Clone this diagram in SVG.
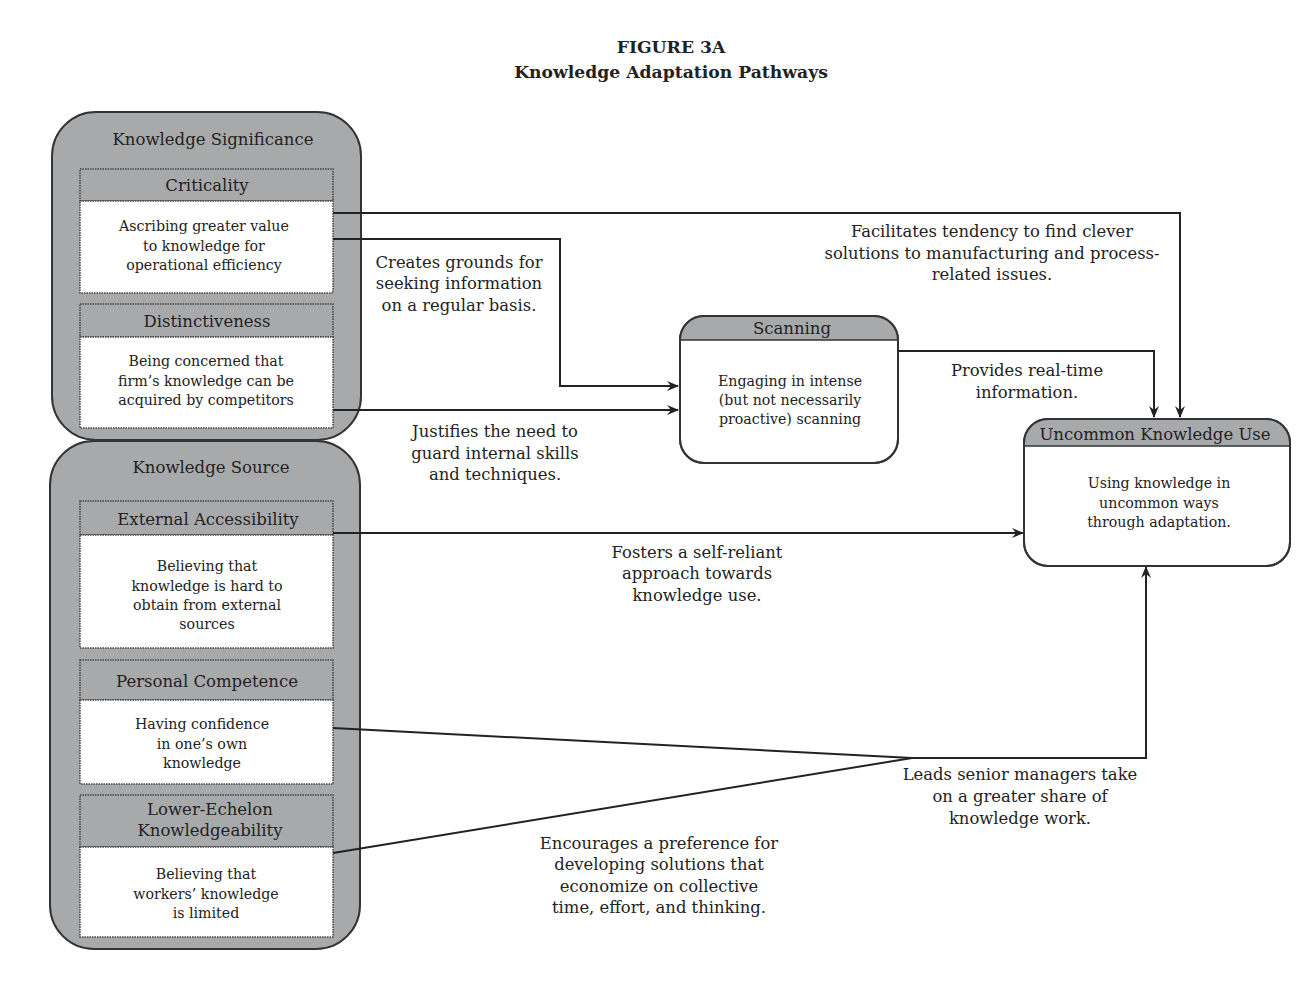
<svg xmlns="http://www.w3.org/2000/svg" width="1311" height="1000" viewBox="0 0 1311 1000">
<style>
text{font-family:"DejaVu Serif","Liberation Serif",serif;fill:#222;text-anchor:middle}
.title{font-weight:bold;font-size:17.2px}
.panel{fill:#a8a9ab;stroke:#333;stroke-width:2}
.hdr{fill:#a8a9ab;stroke:#444;stroke-width:1.5;stroke-dasharray:1.5 1}
.body{fill:#fff;stroke:#444;stroke-width:1.5;stroke-dasharray:1.5 1}
.ph{font-size:16.5px}
.h{font-size:16.5px}
.b{font-size:14.2px}
.lbl{font-size:16.4px}
.conn{fill:none;stroke:#222;stroke-width:2}
.nodebox{fill:#fff;stroke:#333;stroke-width:2}
</style>
<defs>
<marker id="arr" viewBox="0 0 12 10" refX="11" refY="5" markerWidth="12" markerHeight="10" markerUnits="userSpaceOnUse" orient="auto">
<path d="M0,0 L12,5 L0,10 L4,5 Z" fill="#222"/>
</marker>
<clipPath id="scanClip"><rect x="680" y="316" width="218" height="147" rx="24"/></clipPath>
<clipPath id="uncClip"><rect x="1024" y="419" width="266" height="147" rx="24"/></clipPath>
</defs>
<rect width="1311" height="1000" fill="#fff"/>
<text class="title" x="671" y="53">FIGURE 3A</text>
<text class="title" x="671" y="78">Knowledge Adaptation Pathways</text>

<g id="panel-significance">
<rect class="panel" x="52" y="112" width="309" height="328" rx="44"/>
<text class="ph" x="213" y="145">Knowledge Significance</text>
</g>
<g id="panel-source">
<rect class="panel" x="50" y="441" width="310" height="508" rx="44"/>
<text class="ph" x="211" y="473">Knowledge Source</text>
</g>

<g id="criticality">
<rect class="hdr" x="80" y="169" width="253" height="32"/>
<rect class="body" x="80" y="201" width="253" height="92"/>
<text class="h" x="207" y="191">Criticality</text>
<text class="b" x="204" y="231">Ascribing greater value</text>
<text class="b" x="204" y="251">to knowledge for</text>
<text class="b" x="204" y="270">operational efficiency</text>
</g>
<g id="distinctiveness">
<rect class="hdr" x="80" y="304" width="253" height="33"/>
<rect class="body" x="80" y="337" width="253" height="91"/>
<text class="h" x="207" y="327">Distinctiveness</text>
<text class="b" x="206" y="366">Being concerned that</text>
<text class="b" x="206" y="386">firm’s knowledge can be</text>
<text class="b" x="206" y="405">acquired by competitors</text>
</g>
<g id="external-accessibility">
<rect class="hdr" x="80" y="501" width="253" height="34"/>
<rect class="body" x="80" y="535" width="253" height="113"/>
<text class="h" x="208" y="525">External Accessibility</text>
<text class="b" x="207" y="571">Believing that</text>
<text class="b" x="207" y="591">knowledge is hard to</text>
<text class="b" x="207" y="610">obtain from external</text>
<text class="b" x="207" y="629">sources</text>
</g>
<g id="personal-competence">
<rect class="hdr" x="80" y="660" width="253" height="40"/>
<rect class="body" x="80" y="700" width="253" height="84"/>
<text class="h" x="207" y="687">Personal Competence</text>
<text class="b" x="202" y="729">Having confidence</text>
<text class="b" x="202" y="749">in one’s own</text>
<text class="b" x="202" y="768">knowledge</text>
</g>
<g id="lower-echelon">
<rect class="hdr" x="80" y="795" width="253" height="52"/>
<rect class="body" x="80" y="847" width="253" height="90"/>
<text class="h" x="210" y="815">Lower-Echelon</text>
<text class="h" x="210" y="836">Knowledgeability</text>
<text class="b" x="206" y="879">Believing that</text>
<text class="b" x="206" y="899">workers’ knowledge</text>
<text class="b" x="206" y="918">is limited</text>
</g>

<g id="scanning">
<rect class="nodebox" x="680" y="316" width="218" height="147" rx="24"/>
<rect x="680" y="316" width="218" height="24" fill="#a8a9ab" clip-path="url(#scanClip)"/>
<line x1="680" y1="340" x2="898" y2="340" stroke="#333" stroke-width="1.5"/>
<rect x="680" y="316" width="218" height="147" rx="24" fill="none" stroke="#333" stroke-width="2"/>
<text class="h" x="792" y="334">Scanning</text>
<text class="b" x="790" y="386">Engaging in intense</text>
<text class="b" x="790" y="405">(but not necessarily</text>
<text class="b" x="790" y="424">proactive) scanning</text>
</g>
<g id="uncommon">
<rect class="nodebox" x="1024" y="419" width="266" height="147" rx="24"/>
<rect x="1024" y="419" width="266" height="27" fill="#a8a9ab" clip-path="url(#uncClip)"/>
<line x1="1024" y1="446" x2="1290" y2="446" stroke="#333" stroke-width="1.5"/>
<rect x="1024" y="419" width="266" height="147" rx="24" fill="none" stroke="#333" stroke-width="2"/>
<text class="h" x="1155" y="440">Uncommon Knowledge Use</text>
<text class="b" x="1159" y="488">Using knowledge in</text>
<text class="b" x="1159" y="508">uncommon ways</text>
<text class="b" x="1159" y="527">through adaptation.</text>
</g>

<g id="connectors">
<polyline class="conn" points="333,213 1180,213 1180,417" marker-end="url(#arr)"/>
<polyline class="conn" points="333,239 560,239 560,386 678,386" marker-end="url(#arr)"/>
<polyline class="conn" points="333,410 678,410" marker-end="url(#arr)"/>
<polyline class="conn" points="898,351 1154,351 1154,417" marker-end="url(#arr)"/>
<polyline class="conn" points="333,533 1023,533" marker-end="url(#arr)"/>
<polyline class="conn" points="333,728 912,758 1146,758 1146,567" marker-end="url(#arr)"/>
<polyline class="conn" points="333,853 912,758"/>
</g>

<g id="labels">
<text class="lbl" x="992" y="237">Facilitates tendency to find clever</text>
<text class="lbl" x="992" y="259">solutions to manufacturing and process-</text>
<text class="lbl" x="992" y="280">related issues.</text>
<text class="lbl" x="459" y="268">Creates grounds for</text>
<text class="lbl" x="459" y="289">seeking information</text>
<text class="lbl" x="459" y="311">on a regular basis.</text>
<text class="lbl" x="495" y="437">Justifies the need to</text>
<text class="lbl" x="495" y="459">guard internal skills</text>
<text class="lbl" x="495" y="480">and techniques.</text>
<text class="lbl" x="1027" y="376">Provides real-time</text>
<text class="lbl" x="1027" y="398">information.</text>
<text class="lbl" x="697" y="558">Fosters a self-reliant</text>
<text class="lbl" x="697" y="579">approach towards</text>
<text class="lbl" x="697" y="601">knowledge use.</text>
<text class="lbl" x="1020" y="780">Leads senior managers take</text>
<text class="lbl" x="1020" y="802">on a greater share of</text>
<text class="lbl" x="1020" y="824">knowledge work.</text>
<text class="lbl" x="659" y="849">Encourages a preference for</text>
<text class="lbl" x="659" y="870">developing solutions that</text>
<text class="lbl" x="659" y="892">economize on collective</text>
<text class="lbl" x="659" y="913">time, effort, and thinking.</text>
</g>
</svg>
